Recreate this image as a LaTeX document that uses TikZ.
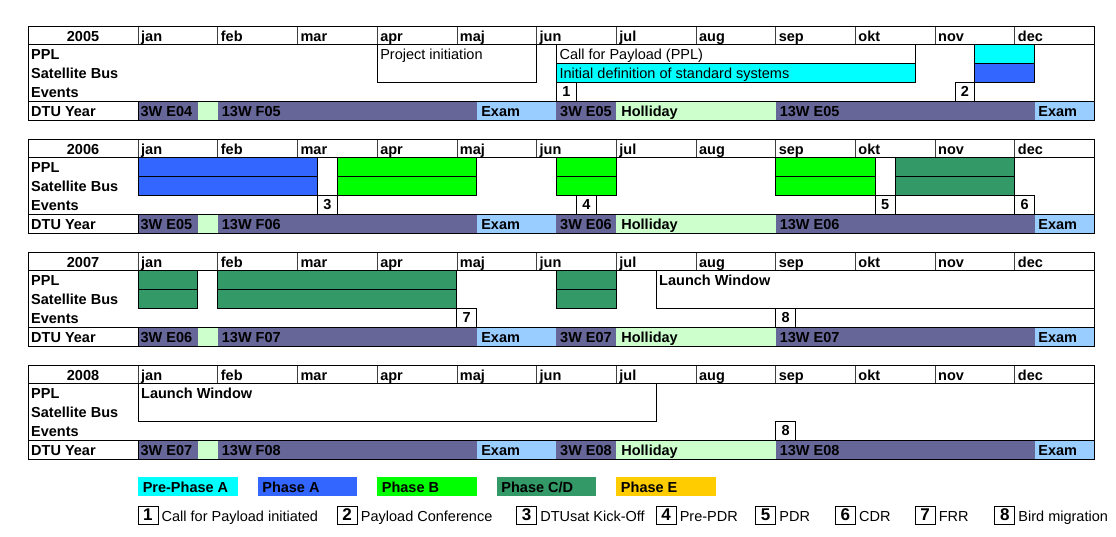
\documentclass[tikz,border=0pt]{standalone}
\usepackage{fontspec}
\setmainfont{Liberation Sans}
\definecolor{prephaseA}{HTML}{00FFFF}
\definecolor{phaseA}{HTML}{3366FF}
\definecolor{phaseB}{HTML}{00FF00}
\definecolor{phaseCD}{HTML}{339966}
\definecolor{phaseE}{HTML}{FFCC00}
\definecolor{term}{HTML}{666699}
\definecolor{holiday}{HTML}{CCFFCC}
\definecolor{exam}{HTML}{99CCFF}

\begin{document}
\begin{tikzpicture}[
    x=1pt, y=-1pt,
    every node/.style={inner sep=0pt, font=\fontsize{14.5}{16}\selectfont}
  ]

  \tikzset{
    yearblock/.style={shift={(138,{26+113*#1})}, x=19.925pt, y=-18.8pt},
    boldtxt/.style={font=\fontsize{14.5}{16}\selectfont\bfseries},
    lbl/.style={anchor=base west},
    task/.style={draw=black, line width=0.8pt},
    evt/.style={draw=black, fill=white, line width=0.8pt, minimum width=19.925pt, minimum height=18.8pt,
      font=\fontsize{14.5}{16}\selectfont\bfseries},
    evtkey/.style={draw=black, line width=0.8pt, minimum width=19.925pt, minimum height=18pt,
      font=\fontsize{17}{19}\selectfont\bfseries},
    divider/.style={draw=black!75, line width=0.6pt},
    outline/.style={draw=black, line width=0.9pt}
  }

  \useasboundingbox (0,0) rectangle (1116,536);

  % year blocks: header, row names, DTU year
  \foreach \k/\yr/\prev/\cur in {0/2005/04/05, 1/2006/05/06, 2/2007/06/07, 3/2008/07/08} {
    \begin{scope}[yearblock=\k]
      \foreach \a/\b/\c in {0/3/term, 3/4/holiday, 4/17/term, 17/21/exam, 21/24/term, 24/32/holiday, 32/45/term, 45/48/exam}
        \fill[\c] (\a,4) rectangle (\b,5);
      \foreach \i in {0,...,11}
        \draw[divider] (4*\i,0) -- (4*\i,1);
      \draw[outline] (-5.52,1) -- (48,1) (-5.52,4) -- (48,4) (0,4) -- (0,5);
      \draw[outline] (-5.52,0) rectangle (48,5);

      \node[boldtxt, anchor=base] (year\k) at (-2.76,0.8) {\yr};
      \foreach \m [count=\i from 0] in {jan,feb,mar,apr,maj,jun,jul,aug,sep,okt,nov,dec}
        \node[boldtxt, lbl] (mon\k-\i) at ({4*\i+0.15},0.8) {\m};
      \foreach \r/\t in {1/PPL, 2/Satellite Bus, 3/Events, 4/DTU Year}
        \node[boldtxt, lbl] (row\k-\r) at (-5.37,{\r+0.8}) {\t};

      \node[boldtxt, lbl] (semA\k) at (0.12,4.8) {3W E\prev};
      \node[boldtxt, lbl] (semB\k) at (4.2,4.8) {13W F\cur};
      \node[boldtxt, lbl] (examA\k) at (17.22,4.8) {Exam};
      \node[boldtxt, lbl] (semC\k) at (21.18,4.8) {3W E\cur};
      \node[boldtxt, lbl] (hol\k) at (24.25,4.8) {Holliday};
      \node[boldtxt, lbl] (semD\k) at (32.2,4.8) {13W E\cur};
      \node[boldtxt, lbl] (examB\k) at (45.18,4.8) {Exam};
    \end{scope}
  }

  % 2005
  \begin{scope}[yearblock=0]
    \draw[task, fill=white] (12,1) rectangle (20,3);
    \node[lbl] (init) at (12.15,1.8) {Project initiation};
    \draw[task, fill=white] (21,1) rectangle (39,2);
    \node[lbl] (cfp) at (21.15,1.8) {Call for Payload (PPL)};
    \draw[task, fill=prephaseA] (21,2) rectangle (39,3);
    \node[lbl] (initdef) at (21.15,2.8) {Initial definition of standard systems};
    \draw[task, fill=prephaseA] (42,1) rectangle (45,2);
    \draw[task, fill=phaseA] (42,2) rectangle (45,3);
    \node[evt] (ev1) at (21.5,3.5) {1};
    \node[evt] (ev2) at (41.5,3.5) {2};
  \end{scope}

  % 2006
  \begin{scope}[yearblock=1]
    \draw[task, fill=phaseA] (0,1) rectangle (9,2) (0,2) rectangle (9,3);
    \draw[task, fill=phaseB] (10,1) rectangle (17,2) (10,2) rectangle (17,3);
    \draw[task, fill=phaseB] (21,1) rectangle (24,2) (21,2) rectangle (24,3);
    \draw[task, fill=phaseB] (32,1) rectangle (37,2) (32,2) rectangle (37,3);
    \draw[task, fill=phaseCD] (38,1) rectangle (44,2) (38,2) rectangle (44,3);
    \node[evt] (ev3) at (9.5,3.5) {3};
    \node[evt] (ev4) at (22.5,3.5) {4};
    \node[evt] (ev5) at (37.5,3.5) {5};
    \node[evt] (ev6) at (44.5,3.5) {6};
  \end{scope}

  % 2007
  \begin{scope}[yearblock=2]
    \draw[task, fill=phaseCD] (0,1) rectangle (3,2) (0,2) rectangle (3,3);
    \draw[task, fill=phaseCD] (4,1) rectangle (16,2) (4,2) rectangle (16,3);
    \draw[task, fill=phaseCD] (21,1) rectangle (24,2) (21,2) rectangle (24,3);
    \draw[task, fill=white] (26,1) rectangle (48,3);
    \node[boldtxt, lbl] (launchA) at (26.15,1.8) {Launch Window};
    \node[evt] (ev7) at (16.5,3.5) {7};
    \node[evt] (ev8a) at (32.5,3.5) {8};
  \end{scope}

  % 2008
  \begin{scope}[yearblock=3]
    \draw[task, fill=white] (0,1) rectangle (26,3);
    \node[boldtxt, lbl] (launchB) at (0.15,1.8) {Launch Window};
    \node[evt] (ev8b) at (32.5,3.5) {8};
  \end{scope}

  % legend
  \begin{scope}[shift={(138,0)}, x=19.925pt]
    \foreach \q/\c/\t [count=\n] in {0/prephaseA/Pre-Phase A, 6/phaseA/Phase A, 12/phaseB/Phase B, 18/phaseCD/{Phase C/D}, 24/phaseE/Phase E} {
      \fill[\c] (\q,477) rectangle ({\q+5},496);
      \node[boldtxt, lbl] (key\n) at ({\q+0.23},492.5) {\t};
    }
    \foreach \n/\q/\t in {1/0/Call for Payload initiated, 2/10/Payload Conference, 3/19/DTUsat Kick-Off,
        4/26/Pre-PDR, 5/31/PDR, 6/35/CDR, 7/39/FRR, 8/43/Bird migration} {
      \node[evtkey] (num\n) at ({\q+0.5},515) {\n};
      \node[lbl] (txt\n) at ({\q+1.18},521) {\t};
    }
  \end{scope}

\end{tikzpicture}
\end{document}
